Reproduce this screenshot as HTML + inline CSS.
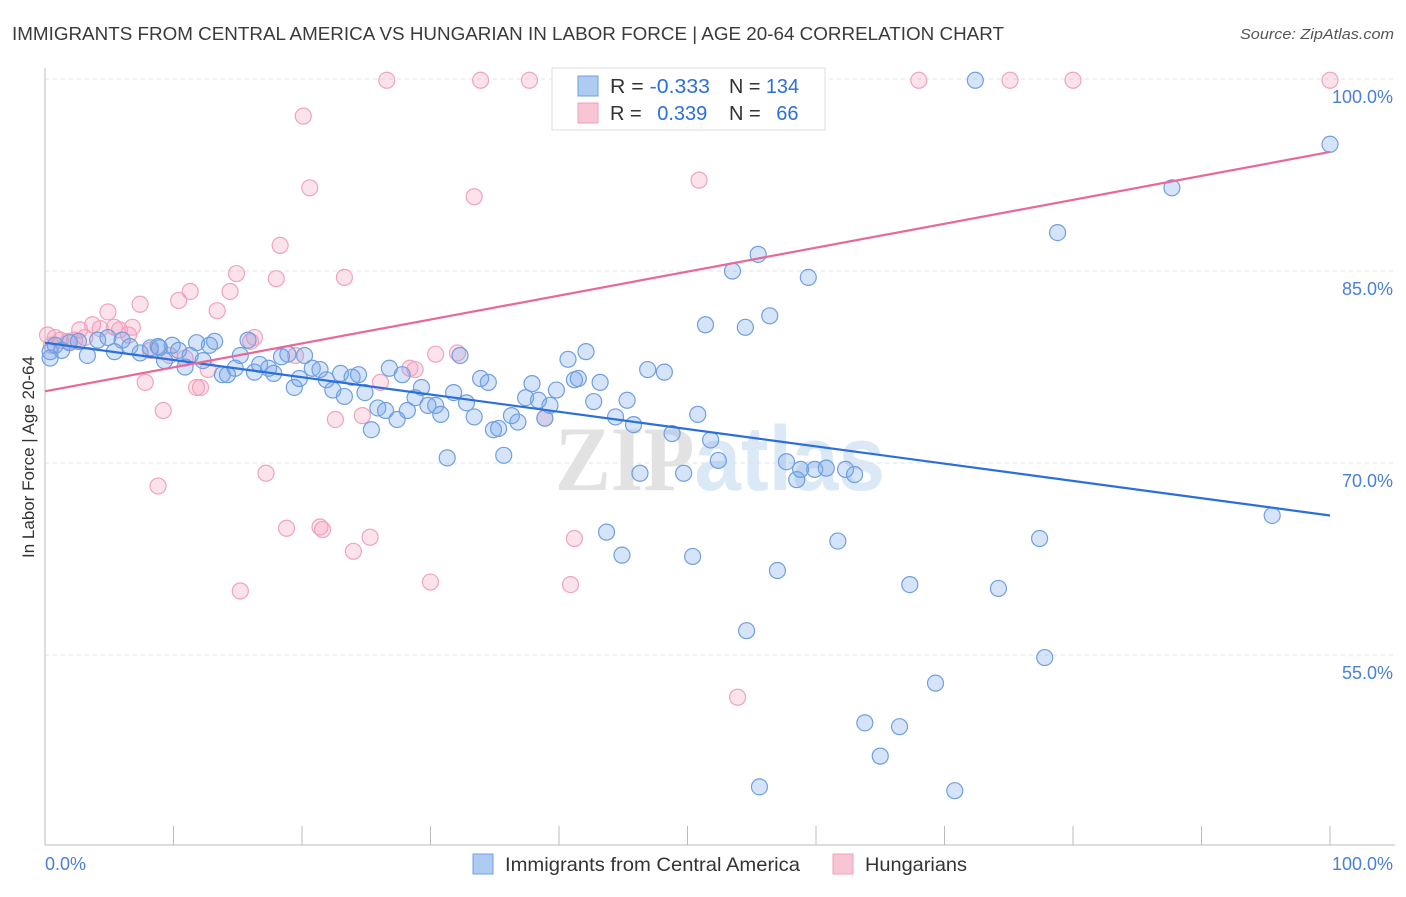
<!DOCTYPE html>
<html><head><meta charset="utf-8"><style>
body{margin:0;background:#fff;font-family:"Liberation Sans",sans-serif;}
svg text{font-family:"Liberation Sans",sans-serif;}
</style></head><body>
<svg id="chart" width="1406" height="892">
<text x="12" y="40" font-size="18.5" fill="#3a3a3a" textLength="992" lengthAdjust="spacingAndGlyphs">IMMIGRANTS FROM CENTRAL AMERICA VS HUNGARIAN IN LABOR FORCE | AGE 20-64 CORRELATION CHART</text>
<text x="1240" y="39" font-size="15" fill="#555" font-style="italic" textLength="154" lengthAdjust="spacingAndGlyphs">Source: ZipAtlas.com</text>
<text x="720" y="490" font-size="92" text-anchor="middle" font-weight="bold" textLength="330" lengthAdjust="spacingAndGlyphs"><tspan fill="#e2e2e2" font-family="Liberation Serif">ZIP</tspan><tspan fill="#dbe8f6">atlas</tspan></text>
<g id="grid"></g>
<g id="axes"></g>
<g id="pts"></g>
<g id="trends"></g>
<text transform="translate(34,457) rotate(-90)" font-size="17" fill="#333" text-anchor="middle">In Labor Force | Age 20-64</text>
<text x="45" y="870" font-size="18" fill="#4a7fd8">0.0%</text>
<text x="1393" y="870" font-size="18" fill="#4a7fd8" text-anchor="end">100.0%</text>
<g>
<rect x="552" y="68" width="273" height="62" fill="#fff" stroke="#ddd"/>
<rect x="578" y="76" width="20" height="20" fill="#aecbf2" stroke="#6f9fe0"/>
<rect x="578" y="103" width="20" height="20" fill="#f8c5d4" stroke="#eea0b8"/>
<text x="610" y="93" font-size="20" fill="#333" textLength="100" lengthAdjust="spacingAndGlyphs">R = <tspan fill="#2a6fdb">-0.333</tspan></text>
<text x="729" y="93" font-size="20" fill="#333" textLength="70" lengthAdjust="spacingAndGlyphs">N = <tspan fill="#2a6fdb">134</tspan></text>
<text x="610" y="120" font-size="20" fill="#333">R = <tspan fill="#2a6fdb" dx="10">0.339</tspan></text>
<text x="729" y="120" font-size="20" fill="#333">N = <tspan fill="#2a6fdb" dx="10">66</tspan></text>
</g>
<g>
<rect x="473" y="854" width="20" height="20" fill="#aecbf2" stroke="#6f9fe0"/>
<text x="505" y="871" font-size="19.5" fill="#333" textLength="295" lengthAdjust="spacingAndGlyphs">Immigrants from Central America</text>
<rect x="833" y="854" width="20" height="20" fill="#f8c5d4" stroke="#eea0b8"/>
<text x="865" y="871" font-size="19.5" fill="#333" textLength="102" lengthAdjust="spacingAndGlyphs">Hungarians</text>
</g>
</svg>
<script>
const yTicks=[100,85,70,55];
const yTickLabels=["100.0%","85.0%","70.0%","55.0%"];
const xTicks=[0,10,20,30,40,50,60,70,80,90,100];
const blueX=[0.4,0.8,1.3,1.9,2.6,3.3,4.1,4.9,5.4,6.0,6.6,7.4,8.2,8.8,9.3,9.9,10.4,10.9,11.3,11.8,12.3,12.8,13.2,13.8,14.2,14.8,15.2,15.8,16.3,16.7,17.4,17.8,18.4,18.9,19.4,19.8,20.2,20.8,21.4,21.9,22.4,23.0,23.3,23.9,24.4,24.9,25.4,25.9,26.5,26.8,27.4,27.8,28.2,28.8,29.3,29.8,30.4,30.8,31.3,31.8,32.3,32.8,33.4,33.9,34.5,34.9,35.3,35.7,36.3,36.8,37.4,37.9,38.4,38.9,39.3,39.8,40.7,41.2,41.5,42.1,42.7,43.2,43.7,44.4,44.9,45.3,45.8,46.3,46.9,48.2,48.8,49.7,50.4,50.8,51.4,51.8,52.4,53.5,54.5,54.6,55.5,55.6,56.4,57.0,57.7,58.5,58.8,59.4,59.9,60.8,61.7,62.3,63.0,63.8,65.0,66.5,67.3,69.3,70.8,72.4,74.2,77.4,77.8,78.8,87.7,95.5,100,47.9,51.0,0.4,8.9];
const blueY=[78.7,79.2,78.8,79.4,79.5,78.4,79.6,79.8,78.7,79.6,79.1,78.6,79.0,79.1,78.0,79.2,78.8,77.5,78.4,79.4,78.0,79.2,79.5,76.9,76.9,77.4,78.4,79.6,77.1,77.7,77.4,77.0,78.3,78.5,75.9,76.6,78.4,77.4,77.3,76.5,75.7,77.0,75.2,76.7,76.9,75.5,72.6,74.3,74.1,77.4,73.4,76.9,74.1,75.1,75.9,74.5,74.5,73.8,70.4,75.5,78.4,74.7,73.6,76.6,76.3,72.6,72.7,70.6,73.7,73.2,75.1,76.2,74.9,73.5,74.5,75.7,78.1,76.5,76.6,78.7,74.8,76.3,64.6,73.6,62.8,74.9,73.0,69.2,77.3,77.1,72.3,69.2,62.7,73.8,80.8,71.8,70.2,85.0,80.6,56.9,86.3,44.7,81.5,61.6,70.1,68.7,69.5,84.5,69.5,69.6,63.9,69.5,69.1,49.7,47.1,49.4,60.5,52.8,44.4,99.9,60.2,64.1,54.8,88.0,91.5,65.9,94.9,99.9,99.9,78.2,79.0];
const pinkX=[0.8,1.2,1.8,2.3,3.1,3.7,4.3,4.9,5.4,5.8,6.5,6.8,7.4,7.8,8.2,8.8,9.2,9.7,10.4,10.9,11.3,11.8,12.1,12.7,13.4,14.4,14.9,15.2,16.0,16.3,17.2,18.0,18.3,18.8,19.5,20.1,20.6,21.4,21.6,22.6,23.3,24.0,24.7,25.3,26.1,26.6,28.4,28.8,30.0,30.4,32.1,33.4,33.9,37.7,38.9,40.9,41.2,50.9,53.9,68.0,75.1,80.0,100,0.2,0.5,2.7];
const pinkY=[79.8,79.6,79.5,79.6,79.8,80.8,80.5,81.8,80.6,80.4,80.0,80.6,82.4,76.3,78.8,68.2,74.1,78.4,82.7,78.2,83.4,75.9,75.9,77.3,81.9,83.4,84.8,60.0,79.5,79.8,69.2,84.4,87.0,64.9,78.4,97.1,91.5,65.0,64.8,73.4,84.5,63.1,73.7,64.2,76.3,99.9,77.4,77.3,60.7,78.5,78.6,90.8,99.9,99.9,73.5,60.5,64.1,92.1,51.7,99.9,99.9,99.9,99.9,80.0,79.2,80.4];
const blueTrend=[79.4,65.9];
const pinkTrend=[75.6,94.3];
const NS="http://www.w3.org/2000/svg";
const X=v=>45+v*12.85;
const Y=v=>79+(100-v)*12.8;
function mk(tag,attrs,parent){const e=document.createElementNS(NS,tag);for(const k in attrs)e.setAttribute(k,attrs[k]);document.getElementById(parent).appendChild(e);return e;}
yTicks.forEach((t,i)=>{
 const l=mk('line',{x1:45,x2:1395,y1:Y(t),y2:Y(t),stroke:'#dde1e6','stroke-dasharray':'4,4'},'grid');
 
 
 const tx=mk('text',{x:1393,y:Y(t)+24,'font-size':18,fill:'#4a7fd8','text-anchor':'end'},'grid');
 tx.textContent=yTickLabels[i];
 
 
});
const ax=mk('line',{x1:45,x2:45,y1:68,y2:845,stroke:'#bbb'},'axes');


const bx=mk('line',{x1:45,x2:1395,y1:845,y2:845,stroke:'#bbb'},'axes');


xTicks.forEach(t=>{
 const l=mk('line',{x1:X(t),x2:X(t),y1:826,y2:845,stroke:'#bbb'},'axes');
 
 
});
pinkX.forEach((x,i)=>{
 const c=mk('circle',{cx:X(x),cy:Y(pinkY[i]),r:8,fill:'rgba(244,160,188,0.3)',stroke:'#f0a3bc','stroke-width':1.2},'pts');
 
 
});
blueX.forEach((x,i)=>{
 const c=mk('circle',{cx:X(x),cy:Y(blueY[i]),r:8,fill:'rgba(120,165,235,0.3)',stroke:'#6f9fe0','stroke-width':1.2},'pts');
 
 
});
const bl=mk('line',{x1:X(0),x2:X(100),y1:Y(blueTrend[0]),y2:Y(blueTrend[1]),stroke:'#2a6fdb','stroke-width':2.2},'trends');


const pl=mk('line',{x1:X(0),x2:X(100),y1:Y(pinkTrend[0]),y2:Y(pinkTrend[1]),stroke:'#e8689a','stroke-width':2.2},'trends');


</script>
</body></html>
